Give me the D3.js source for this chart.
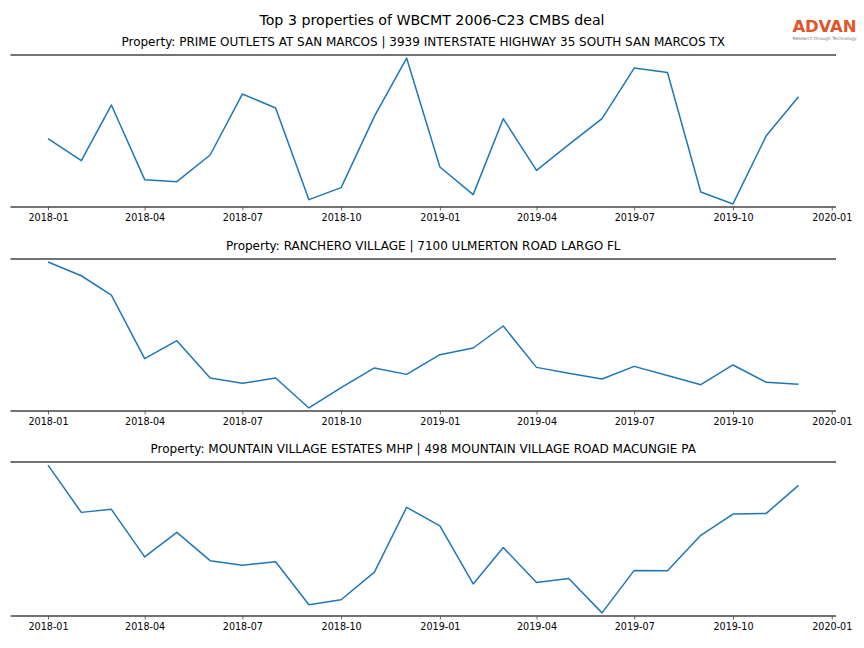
<!DOCTYPE html>
<html><head><meta charset="utf-8">
<script src="https://cdn.jsdelivr.net/npm/d3@7"></script>
<style>body{margin:0;background:#fff}svg{display:block}text{font-family:"DejaVu Sans",sans-serif}</style>
</head><body><svg id="c" width="864" height="648"></svg>
<script>
const months = ["2018-01","2018-02","2018-03","2018-04","2018-05","2018-06","2018-07","2018-08","2018-09","2018-10","2018-11","2018-12",
"2019-01","2019-02","2019-03","2019-04","2019-05","2019-06","2019-07","2019-08","2019-09","2019-10","2019-11","2019-12"];
const titles = [
 "Property: PRIME OUTLETS AT SAN MARCOS | 3939 INTERSTATE HIGHWAY 35 SOUTH SAN MARCOS TX",
 "Property: RANCHERO VILLAGE | 7100 ULMERTON ROAD LARGO FL",
 "Property: MOUNTAIN VILLAGE ESTATES MHP | 498 MOUNTAIN VILLAGE ROAD MACUNGIE PA"];
const series1 = [67.7,45.7,101.4,26.7,24.7,51.4,112.4,98.4,6.7,18.7,90,148.4,39.4,11.7,87.7,36,61.7,87.7,138.4,134,14.4,2.4,70.7,109.7];
const series2 = [148.4,134.7,115.4,51.7,69.7,32.4,27,32.4,2.4,22.7,42.4,36,55.7,62.4,84.4,43,37.2,31.4,44,34.9,25.7,45.4,28,26];
const series3 = [149,102.3,105.3,58.3,82.6,54.6,50,53.6,11,16,43.3,107.3,89,31.6,67.6,33,37,3,45,44.6,79.6,100.6,101.3,129];
const tickLabels = ["2018-01","2018-04","2018-07","2018-10","2019-01","2019-04","2019-07","2019-10","2020-01"];
const suptitle = "Top 3 properties of WBCMT 2006-C23 CMBS deal";

const svg = d3.select("#c");
const parse = d3.timeParse("%Y-%m");
const dates = months.map(parse);
const allSeries = [series1, series2, series3];
const panels = [{top:55, bottom:207},{top:259, bottom:411},{top:462, bottom:616}];
const left = 10.5, right = 836;

svg.append("text").attr("x",432).attr("y",25).attr("text-anchor","middle").attr("font-size",14.2).attr("fill","#000").text(suptitle);

// logo
svg.append("text").attr("x",792.5).attr("y",32).attr("font-size",16.5).attr("font-weight","bold")
  .attr("font-family","Liberation Sans, Arial, sans-serif").attr("fill","#e2542c")
  .attr("textLength",64).attr("lengthAdjust","spacing").text("ADVAN");
svg.append("text").attr("x",792.5).attr("y",39.5).attr("font-size",4.4)
  .attr("font-family","Liberation Sans, Arial, sans-serif").attr("fill","#777")
  .attr("textLength",64).attr("lengthAdjust","spacingAndGlyphs").text("Research through Technology");

const d0 = dates[0], d1 = dates[dates.length-1];
const span = d1 - d0;
const x = d3.scaleTime().domain([new Date(+d0 - 0.05*span), new Date(+d1 + 0.05*span)]).range([left, right]);
const tickDates = tickLabels.map(parse);

allSeries.forEach((vals, i) => {
  const p = panels[i];
  const ext = d3.extent(vals);
  const pad = (ext[1]-ext[0])*0.021;
  const y = d3.scaleLinear().domain([ext[0]-pad, ext[1]+pad]).range([p.bottom, p.top]);
  const g = svg.append("g");
  g.append("text").attr("x",(left+right)/2).attr("y",p.top-9).attr("text-anchor","middle").attr("font-size",12).text(titles[i]);
  const line = d3.line().x((d,j)=>x(dates[j])).y(d=>y(d));
  g.append("path").datum(vals).attr("d",line).attr("fill","none").attr("stroke","#1f77b4").attr("stroke-width",1.5).attr("stroke-linejoin","round");
  g.append("line").attr("x1",left).attr("x2",right).attr("y1",p.top).attr("y2",p.top).attr("stroke","#444").attr("stroke-width",1.6);
  const ax = d3.axisBottom(x).tickValues(tickDates).tickFormat(d3.timeFormat("%Y-%m")).tickSize(3.5).tickPadding(3.5);
  const axg = g.append("g").attr("transform",`translate(0,${p.bottom})`).call(ax);
  axg.select(".domain").remove();
  axg.selectAll(".tick line").attr("stroke","#444").attr("stroke-width",0.8);
  axg.selectAll(".tick text").attr("font-size",9.6).attr("font-family","DejaVu Sans, sans-serif").attr("fill","#000");
  g.append("line").attr("x1",left).attr("x2",right).attr("y1",p.bottom).attr("y2",p.bottom).attr("stroke","#444").attr("stroke-width",1.6);
});
</script></body></html>
